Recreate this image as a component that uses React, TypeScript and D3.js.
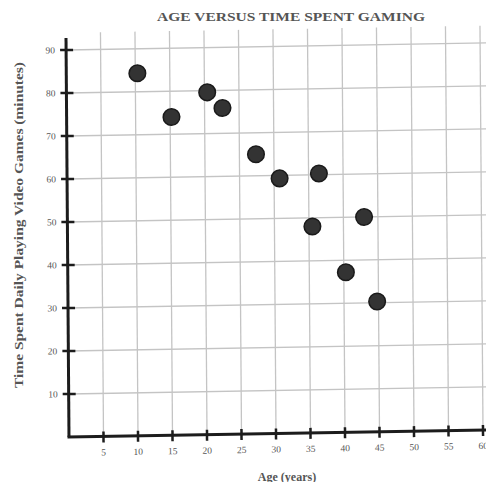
import * as d3 from "d3";

const ages = [10.3, 15.2, 20.4, 22.6, 27.4, 30.8, 36.5, 35.5, 43, 40.3, 44.8];
const minutes = [84.3, 74, 79.6, 75.9, 65, 59.3, 60.3, 48, 50, 37.2, 30.3];
const xTicks = [5, 10, 15, 20, 25, 30, 35, 40, 45, 50, 55, 60];
const yTicks = [10, 20, 30, 40, 50, 60, 70, 80, 90];

const W = 494;
const H = 490;
const origin = { x: 69, y: 437 };

const ScatterChart = () => {
  // scales in the plot's own frame; the plot is skewed a little like the scan
  const x = d3.scaleLinear().domain([0, 60]).range([origin.x, origin.x + 414]);
  const y = d3.scaleLinear().domain([0, 90]).range([origin.y, origin.y - 387]);

  const gridColor = "#c4c4c4";
  const axisColor = "#1c1c1c";
  const font = "'Liberation Serif', 'DejaVu Serif', serif";
  const tilt = `translate(${origin.x},${origin.y}) matrix(1,-0.017,0.0075,1,0,0) translate(${-origin.x},${-origin.y})`;

  return (
    <svg width={W} height={H} style={{ display: "block", background: "#fff" }}>
      {/* Title */}
      <text
        x={291}
        y={21}
        textAnchor="middle"
        fontFamily={font}
        fontSize={13}
        fontWeight="bold"
        fill="#555"
        textLength={268}
        lengthAdjust="spacingAndGlyphs"
      >
        AGE VERSUS TIME SPENT GAMING
      </text>

      <g transform={tilt}>
        {/* Gridlines */}
        {xTicks.map((t) => (
          <line
            key={`gx${t}`}
            x1={x(t)}
            x2={x(t)}
            y1={y(0)}
            y2={y(94)}
            stroke={gridColor}
            strokeWidth={1.3}
          />
        ))}
        {yTicks.map((t) => (
          <line
            key={`gy${t}`}
            x1={x(0)}
            x2={x(61)}
            y1={y(t)}
            y2={y(t)}
            stroke={gridColor}
            strokeWidth={1.3}
          />
        ))}

        {/* Axes */}
        <line x1={x(0)} x2={x(0)} y1={y(0)} y2={y(92.8)} stroke={axisColor} strokeWidth={3} />
        <line x1={x(0) - 1.5} x2={x(62)} y1={y(0)} y2={y(0)} stroke={axisColor} strokeWidth={3} />

        {yTicks.map((t) => (
          <line
            key={`ty${t}`}
            x1={x(0) - 6}
            x2={x(0) + 7}
            y1={y(t)}
            y2={y(t)}
            stroke={axisColor}
            strokeWidth={2.5}
          />
        ))}
        {xTicks.map((t) => (
          <line
            key={`tx${t}`}
            x1={x(t)}
            x2={x(t)}
            y1={y(0) - 5}
            y2={y(0) + 6}
            stroke={axisColor}
            strokeWidth={2.5}
          />
        ))}

        {/* Tick labels */}
        {yTicks.map((t) => (
          <text
            key={`ly${t}`}
            x={x(0) - 11}
            y={y(t)}
            dy="0.33em"
            textAnchor="end"
            fontFamily={font}
            fontSize={9.5}
            fill="#555"
          >
            {t}
          </text>
        ))}
        {xTicks.map((t) => (
          <text
            key={`lx${t}`}
            x={x(t)}
            y={y(0) + 19}
            textAnchor="middle"
            fontFamily={font}
            fontSize={9.5}
            fill="#555"
          >
            {t}
          </text>
        ))}

        {/* Points */}
        {ages.map((a, i) => (
          <circle
            key={i}
            cx={x(a)}
            cy={y(minutes[i])}
            r={8.3}
            fill="#333"
            stroke="#1a1a1a"
            strokeWidth={1.5}
          />
        ))}
      </g>

      {/* Axis titles */}
      <text
        x={287}
        y={481}
        textAnchor="middle"
        fontFamily={font}
        fontSize={12}
        fontWeight="bold"
        fill="#555"
      >
        Age (years)
      </text>
      <text
        transform="translate(23, 225) rotate(-90)"
        textAnchor="middle"
        fontFamily={font}
        fontSize={13}
        fontWeight="bold"
        fill="#555"
        textLength={326}
        lengthAdjust="spacingAndGlyphs"
      >
        Time Spent Daily Playing Video Games (minutes)
      </text>
    </svg>
  );
};

export default function App() {
  return (
    <div style={{ margin: -8 }}>
      <ScatterChart />
    </div>
  );
}
